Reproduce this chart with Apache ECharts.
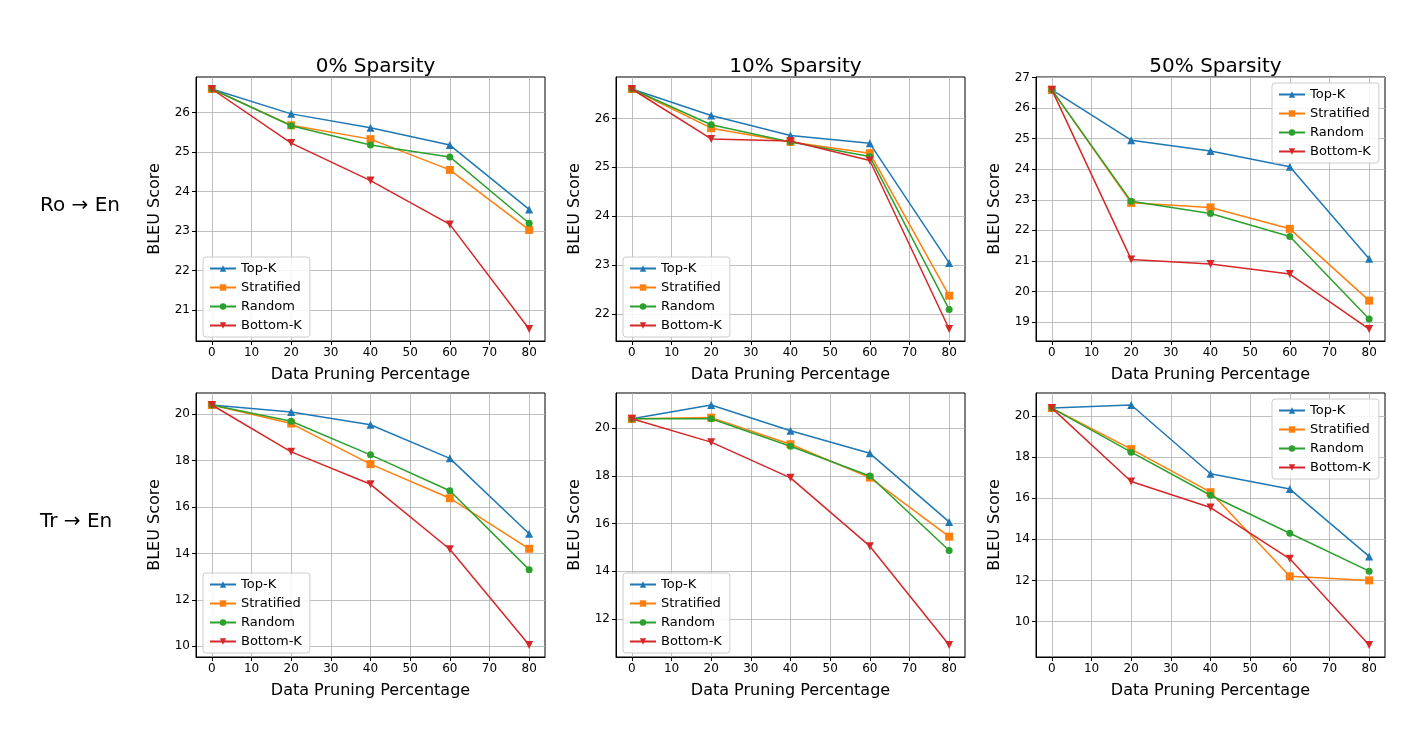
<!DOCTYPE html>
<html><head><meta charset="utf-8">
<script src="https://cdn.jsdelivr.net/npm/echarts@6/dist/echarts.min.js"></script>
<style>html,body{margin:0;padding:0;background:#fff}#c{width:1425px;height:732px}</style>
</head><body><div id="c"></div>
<script>
const xCats = [0, 20, 40, 60, 80];
const seriesNames = ['Top-K', 'Stratified', 'Random', 'Bottom-K'];
const titles = ['0% Sparsity', '10% Sparsity', '50% Sparsity'];
const rowLabels = ['Ro → En', 'Tr → En'];
// panel data: [TopK, Stratified, Random, BottomK]
const roEn0 = [[26.6,25.97,25.62,25.18,23.55],[26.6,25.68,25.33,24.55,23.03],[26.6,25.67,25.18,24.88,23.2],[26.6,25.23,24.28,23.17,20.52]];
const roEn10 = [[26.6,26.06,25.65,25.49,23.05],[26.6,25.8,25.52,25.29,22.38],[26.6,25.87,25.52,25.22,22.1],[26.6,25.58,25.54,25.14,21.7]];
const roEn50 = [[26.6,24.95,24.6,24.08,21.07],[26.6,22.9,22.75,22.05,19.7],[26.6,22.95,22.55,21.8,19.1],[26.6,21.05,20.9,20.57,18.77]];
const trEn0 = [[20.4,20.1,19.55,18.1,14.85],[20.4,19.6,17.85,16.38,14.2],[20.4,19.7,18.25,16.7,13.3],[20.4,18.38,16.98,14.18,10.05]];
const trEn10 = [[20.4,20.98,19.9,18.95,16.07],[20.4,20.45,19.33,17.93,15.45],[20.4,20.4,19.25,18.0,14.87],[20.4,19.42,17.92,15.05,10.9]];
const trEn50 = [[20.4,20.55,17.2,16.45,13.17],[20.4,18.4,16.3,12.2,12.0],[20.4,18.25,16.15,14.3,12.45],[20.4,16.82,15.55,13.05,8.85]];
const yTicks = [[21,22,23,24,25,26],[22,23,24,25,26],[19,20,21,22,23,24,25,26,27],
                [10,12,14,16,18,20],[12,14,16,18,20],[10,12,14,16,18,20]];
const xTicks = [0,10,20,30,40,50,60,70,80];

const panels = [roEn0, roEn10, roEn50, trEn0, trEn10, trEn50];
const colors = ['#1f77b4','#ff7f0e','#2ca02c','#d62728'];
const symbols = ['triangle','rect','circle','triangle'];
const rots = [0,0,0,180];
const lefts = [196, 616, 1036];
const tops = [77, 393];
const W = 349, H = 264;
const legendUpperRight = [false,false,true,false,false,true];

const grid=[], xAxis=[], yAxis=[], series=[], legend=[], title=[], graphic=[];
panels.forEach((p, i) => {
  const r = Math.floor(i/3), c = i%3;
  const all = p.flat();
  const mn = Math.min(...all), mx = Math.max(...all), m = (mx-mn)*0.05;
  grid.push({left: lefts[c], top: tops[r], width: W, height: H, show:true, borderColor:'#000', borderWidth:1, backgroundColor:'transparent'});
  xAxis.push({type:'value', gridIndex:i, min:-4, max:84,
    name:'Data Pruning Percentage', nameLocation:'middle', nameGap:26,
    nameTextStyle:{fontSize:16,color:'#000',fontFamily:'DejaVu Sans'},
    axisLine:{show:true,onZero:false,lineStyle:{color:'#000'}},
    axisTick:{show:true,customValues:xTicks,length:4,lineStyle:{color:'#000'}},
    axisLabel:{customValues:xTicks,color:'#000',fontSize:12,fontFamily:'DejaVu Sans',margin:6},
    splitLine:{show:true,lineStyle:{color:'#b0b0b0',width:0.8}}});
  yAxis.push({type:'value', gridIndex:i, min:mn-m, max:(i===2?27.02:mx+m),
    name:'BLEU Score', nameLocation:'middle', nameGap:33,
    nameTextStyle:{fontSize:16,color:'#000',fontFamily:'DejaVu Sans'},
    axisLine:{show:true,onZero:false,lineStyle:{color:'#000'}},
    axisTick:{show:true,customValues:yTicks[i],length:4,lineStyle:{color:'#000'}},
    axisLabel:{customValues:yTicks[i],color:'#000',fontSize:12,fontFamily:'DejaVu Sans',margin:6},
    splitLine:{show:true,lineStyle:{color:'#b0b0b0',width:0.8}}});
  p.forEach((vals, k) => {
    series.push({type:'line', name:seriesNames[k], xAxisIndex:i, yAxisIndex:i,
      data: xCats.map((x,j)=>[x, vals[j]]),
      symbol:symbols[k], symbolRotate:rots[k], symbolSize:k===2?7:8,
      lineStyle:{color:colors[k],width:1.5}, itemStyle:{color:colors[k]},
      emphasis:{disabled:true}, animation:false, z:3+k});
  });
  const L = {orient:'vertical', itemWidth:26, itemHeight:8, itemGap:6,
    data: seriesNames, textStyle:{fontSize:13,color:'#000',fontFamily:'DejaVu Sans'},
    backgroundColor:'rgba(255,255,255,0.85)', borderColor:'#ccc', borderWidth:1, borderRadius:3,
    padding:[5,8,5,6], selectedMode:false};
  if (legendUpperRight[i]) { L.left = lefts[c]+W-113; L.top = tops[r]+6; }
  else { L.left = lefts[c]+7; L.top = tops[r]+H-84; }
  legend.push(L);
});
titles.forEach((t,c)=>title.push({text:t, left:lefts[c]+W/2, top:52, textAlign:'center',
  textStyle:{fontSize:20,fontWeight:'normal',color:'#000',fontFamily:'DejaVu Sans'}}));
rowLabels.forEach((t,r)=>graphic.push({type:'text', left:40, top:[196,512][r],
  style:{text:t, fontSize:20, fill:'#000', fontFamily:'DejaVu Sans'}}));

const chart = echarts.init(document.getElementById('c'));
chart.setOption({animation:false, title, grid, xAxis, yAxis, series, legend, graphic});
</script></body></html>
